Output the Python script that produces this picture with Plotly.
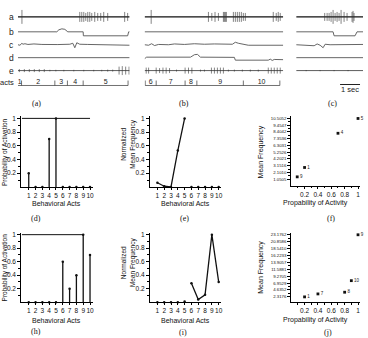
import plotly.graph_objects as go

W, H = 368, 338
SANS = "Liberation Sans"
SERIF = "Liberation Serif"

# ================= DATA =================
# --- recordings, time in seconds, amplitudes in trace units ---
A_DUR, B_DUR, C_DUR = 5.6, 6.95, 3.35

# panel (a)
A_spk_t = [0.2, 3.1, 3.2, 3.3, 3.4, 3.5, 3.6, 3.7, 3.85, 4.0, 4.15, 4.3, 4.5, 5.35, 5.5]
A_spk_amp = [7, 5, 5, 5, 4, 5, 5, 4, 5, 4, 4, 5, 4, 5, 4]
A_b_t = [0, 1.95, 2.05, 2.2, 2.35, 2.5, 3.27, 3.28, 5.5, 5.55, 5.6]
A_b_v = [0, 0, 2, 3, 2.5, 0, 0, -4, -4, 0, 0]
A_c_t = [0, 0.1, 0.2, 0.25, 0.35, 0.5, 0.8, 1.2, 2.0, 2.6, 2.75, 2.85, 2.95, 3.1, 3.5, 4.5, 5.6]
A_c_v = [0, -0.5, 1.5, 0.5, 1.0, 0.3, 0.8, 0.3, 0.2, 0.5, 1.5, -3, 2, 0.5, 0.3, 0, -0.5]
A_d_t = [0, 5.6]
A_d_v = [0, 0]
A_e_t = [0.07, 0.32, 0.57, 0.82, 1.07, 1.32, 1.6, 1.9, 2.3, 2.8, 3.3, 3.8, 4.2, 4.5, 4.75, 5.07, 5.23, 5.4, 5.57]
A_e_amp = [1.5, 1.5, 1.5, 1.5, 1.5, 1.5, 0.8, 0.8, 0.8, 0.8, 0.8, 0.8, 0.8, 1, 1, 4, 4.5, 4, 4]
A_act_bounds = [0.0, 0.18, 1.85, 2.48, 3.27, 5.52]
A_act_labels = ["1", "2", "3", "4", "5"]

# panel (b)
B_spk_t = [0.33, 3.2, 3.37, 3.53, 3.7, 3.95, 4.0, 4.05, 4.1, 4.45, 4.55, 4.65, 4.75, 4.85,
           4.95, 5.05, 6.45, 6.6, 6.7, 6.8]
B_spk_amp = [7, 5, 4, 5, 4, 5, 5, 5, 5, 5, 5, 5, 5, 5, 4, 4, 5, 4, 5, 4]
B_b_t = [0, 6.95]
B_b_v = [0, 0]
B_c_t = [0, 0.2, 0.35, 0.5, 0.7, 1.2, 1.5, 2.0, 2.5, 3.0, 3.5, 4.0, 4.4, 4.55, 4.7, 5.2, 6.95]
B_c_v = [0, -0.5, 1, -0.8, 0.3, 0, 0.8, 0.3, 1, 0.5, 0.8, 0.5, 0.5, 2.5, 1.5, -0.5, -0.5]
B_d_t = [0, 0.1, 2.3, 2.5, 2.65, 2.8, 4.5, 4.55, 6.2, 6.3, 6.4, 6.5, 6.95]
B_d_v = [-1, 0.5, 0.5, 3, 3.3, 0.5, 0.3, -2.5, -2.5, -1.5, -2.8, -1.8, -2]
B_e_t = [0.08, 0.2, 0.58, 0.75, 0.92, 1.08, 1.25, 1.6, 2.03, 2.2, 2.37, 2.8, 3.0, 3.35, 3.5,
         3.65, 3.8, 3.95, 4.2, 4.5, 4.9, 5.3, 5.7, 6.2, 6.35, 6.5, 6.65, 6.8]
B_e_amp = [3, 3, 3, 2.5, 3, 3, 2.5, 1, 3, 3, 3, 1, 1, 3, 3, 3, 3, 3, 1, 1, 1, 1, 1, 3, 3, 3, 3, 3]
B_act_bounds = [0.03, 0.58, 2.03, 2.62, 4.95, 6.78]
B_act_labels = ["6", "7", "8", "9", "10"]

# panel (c)
C_spk_t = [1.43, 1.55, 1.65, 1.75, 1.85, 1.95, 2.05, 2.15, 2.25, 2.4, 2.55, 2.8, 2.85, 2.9]
C_spk_amp = [4, 4, 4, 5, 7, 4, 5, 4, 7, 5, 4, 5, 6, 4]
C_b_t = [0, 1.85, 1.9, 2.95, 3.05, 3.35]
C_b_v = [0, 0, -4, -4, 0, 0]
C_c_t = [0, 0.7, 0.9, 1.05, 1.2, 1.35, 1.45, 1.7, 3.35]
C_c_v = [0, -0.3, -1, 0.8, -0.5, -3, 0.5, 0, 0.3]
C_d_t = [0, 3.35]
C_d_v = [0, 0]
C_e_t = [0.5, 1.2, 1.9, 2.6]
C_e_amp = [0.6, 0.6, 0.6, 0.6]
SCALE_BAR_S = 1.0

# --- behavioural analysis ---
acts = [1, 2, 3, 4, 5, 6, 7, 8, 9, 10]
d_prob = [0.2, 0, 0, 0.7, 1.0, 0, 0, 0, 0, 0]
d_ref_end = 10
e_norm = [0.06, 0.01, 0.0, 0.53, 1.0, 0, 0, 0, 0, 0]
h_prob = [0, 0, 0, 0, 0, 0.6, 0.2, 0.4, 1.0, 0.7]
h_ref_end = 9
i_norm = [0, 0, 0, 0, 0.01, 0.28, 0.04, 0.11, 1.0, 0.3]

f_x = [0.09, 0.2, 0.7, 1.0]
f_y = [1.41, 2.87, 8.2, 10.5052]
f_lbl = ["9", "1", "4", "5"]
j_x = [0.2, 0.4, 0.8, 0.9, 1.0]
j_y = [2.29, 3.29, 3.86, 7.75, 23.1762]
j_lbl = ["1", "7", "8", "10", "9"]

prob_ticks = ["0.2", "0.4", "0.6", "0.8", "1"]
f_yticks = ["1.0505", "2.1010", "3.1516", "4.2021", "5.2526", "6.3031", "7.3536", "8.4042",
            "9.4547", "10.5052"]
j_yticks = ["2.3176", "4.6352", "6.9529", "9.2705", "11.5881", "13.9057", "16.2233",
            "18.5410", "20.8586", "23.1762"]

# ================= LAYOUT HELPERS =================
def xd(p0, p1):
    return [p0 / W, p1 / W]

def yd(top, bot):
    return [1 - bot / H, 1 - top / H]

ROW = {"a": -15, "b": -30, "c": -43, "d": -56, "e": -69, "acts": -84}

fig = go.Figure()
ann = []

def add(tr, n):
    tr.update(xaxis="x" if n == 1 else f"x{n}", yaxis="y" if n == 1 else f"y{n}",
              showlegend=False, hoverinfo="skip")
    fig.add_trace(tr)

def spikes(ts, amps, base):
    xs, ys = [], []
    for t, a in zip(ts, amps):
        xs += [t, t, None]
        ys += [base + a, base - a, None]
    return xs, ys

def recording(n, dur, spk_t, spk_amp, b_t, b_v, c_t, c_v, d_t, d_v, e_t, e_amp):
    add(go.Scatter(x=[0, dur], y=[ROW["a"]] * 2, mode="lines",
                   line=dict(color="#111", width=1.4)), n)
    sx, sy = spikes(spk_t, spk_amp, ROW["a"])
    add(go.Scatter(x=sx, y=sy, mode="lines", line=dict(color="#333", width=0.6)), n)
    for key, tt, vv in (("b", b_t, b_v), ("c", c_t, c_v), ("d", d_t, d_v)):
        add(go.Scatter(x=tt, y=[ROW[key] + v for v in vv], mode="lines",
                       line=dict(color="#555", width=0.9)), n)
    add(go.Scatter(x=[0, dur], y=[ROW["e"]] * 2, mode="lines",
                   line=dict(color="#333", width=0.8)), n)
    ex, ey = spikes(e_t, e_amp, ROW["e"])
    add(go.Scatter(x=ex, y=ey, mode="lines", line=dict(color="#333", width=0.6)), n)

def acts_row(n, bounds, labels, bars):
    add(go.Scatter(x=[bounds[0], bounds[-1]], y=[ROW["acts"]] * 2, mode="lines",
                   line=dict(color="#333", width=0.7)), n)
    bx, by = [], []
    for b in bars:
        bx += [b, b, None]
        by += [ROW["acts"], ROW["acts"] + 5, None]
    add(go.Scatter(x=bx, y=by, mode="lines", line=dict(color="#333", width=0.7)), n)
    mids = [(bounds[k] + bounds[k + 1]) / 2 for k in range(len(labels))]
    add(go.Scatter(x=mids, y=[ROW["acts"] + 3] * len(labels), mode="text", text=labels,
                   textfont=dict(family=SANS, size=7, color="#222"), cliponaxis=False), n)

recording(1, A_DUR, A_spk_t, A_spk_amp, A_b_t, A_b_v, A_c_t, A_c_v, A_d_t, A_d_v, A_e_t, A_e_amp)
recording(2, B_DUR, B_spk_t, B_spk_amp, B_b_t, B_b_v, B_c_t, B_c_v, B_d_t, B_d_v, B_e_t, B_e_amp)
recording(3, C_DUR, C_spk_t, C_spk_amp, C_b_t, C_b_v, C_c_t, C_c_v, C_d_t, C_d_v, C_e_t, C_e_amp)
acts_row(1, A_act_bounds, A_act_labels, A_act_bounds[1:])
acts_row(2, B_act_bounds, B_act_labels, B_act_bounds)

sb0 = C_DUR - 1.15
add(go.Scatter(x=[sb0, sb0 + SCALE_BAR_S], y=[-83, -83], mode="lines",
               line=dict(color="#222", width=1)), 3)
add(go.Scatter(x=[sb0 + SCALE_BAR_S / 2], y=[-89], mode="text", text=["1 sec"],
               textfont=dict(family=SANS, size=7.5, color="#222"), cliponaxis=False), 3)

for key, lab, fs in (("a", "a", 8.5), ("b", "b", 8.5), ("c", "c", 8.5), ("d", "d", 8.5),
                     ("e", "e", 8.5), ("acts", "acts", 7.5)):
    py = -ROW[key] - (3 if key == "acts" else 0)
    ann.append(dict(x=16 / W, y=1 - py / H, xref="paper", yref="paper", text=lab,
                    showarrow=False, xanchor="right", yanchor="middle",
                    font=dict(family=SANS, size=fs, color="#222")))

def stem(n, vals, ref_end):
    add(go.Scatter(x=[0, ref_end], y=[1, 1], mode="lines",
                   line=dict(color="#111", width=1)), n)
    sx, sy = [], []
    for a, v in zip(acts, vals):
        if v > 0:
            sx += [a, a, None]
            sy += [0, v, None]
    add(go.Scatter(x=sx, y=sy, mode="lines", line=dict(color="#111", width=1.3)), n)
    add(go.Scatter(x=acts, y=vals, mode="markers", cliponaxis=False,
                   marker=dict(color="#111", size=2.5)), n)

def linep(n, vals, seg):
    add(go.Scatter(x=acts[seg[0]:seg[1]], y=vals[seg[0]:seg[1]], mode="lines",
                   line=dict(color="#111", width=1.3)), n)
    add(go.Scatter(x=acts, y=vals, mode="markers", cliponaxis=False,
                   marker=dict(color="#111", size=2.5)), n)

def scat(n, xs, ys, labels):
    add(go.Scatter(x=xs, y=ys, mode="markers+text", text=labels, textposition="middle right",
                   cliponaxis=False, marker=dict(color="#111", size=2.8, symbol="square"),
                   textfont=dict(family=SANS, size=4.5, color="#222")), n)

stem(4, d_prob, d_ref_end)
linep(5, e_norm, (0, 5))
scat(6, f_x, f_y, f_lbl)
stem(7, h_prob, h_ref_end)
linep(8, i_norm, (5, 10))
scat(9, j_x, j_y, j_lbl)

# ================= AXES =================
layout = dict(width=W, height=H, margin=dict(l=0, r=0, t=0, b=0),
              paper_bgcolor="white", plot_bgcolor="white", showlegend=False)

def hidden(n, dom, rng, ydom, yrng):
    sx = "" if n == 1 else str(n)
    layout["xaxis" + sx] = dict(domain=dom, range=rng, visible=False, anchor="y" + sx)
    layout["yaxis" + sx] = dict(domain=ydom, range=yrng, visible=False, anchor="x" + sx)

top_y = yd(2, 92)
hidden(1, xd(18, 130), [0, A_DUR], top_y, [-92, -2])
hidden(2, xd(145, 284), [0, B_DUR], top_y, [-92, -2])
hidden(3, xd(297, 364), [0, C_DUR], top_y, [-92, -2])

def axis_common(fs, tl=3):
    return dict(showline=True, linecolor="black", linewidth=1, ticks="outside", ticklen=tl,
                tickwidth=1, tickcolor="black", showgrid=False, zeroline=False, tickangle=0,
                ticklabelstandoff=0,
                tickfont=dict(family=SANS, size=fs, color="#111"))

def shown(n, xdom, xrng, xtv, xtt, xminor, ydom, yrng, ytv, ytt, yminor, yfs, xfs=6.5):
    sx = str(n)
    xa = axis_common(xfs, 2)
    xa.update(domain=xdom, range=xrng, anchor="y" + sx, tickmode="array", tickvals=xtv,
              ticktext=xtt)
    if xminor:
        xa["minor"] = dict(tickmode="array", tickvals=xminor, ticks="outside", ticklen=1.5,
                           tickcolor="black")
    ya = axis_common(yfs)
    ya.update(domain=ydom, range=yrng, anchor="x" + sx, tickmode="array", tickvals=ytv,
              ticktext=ytt)
    if yminor:
        ya["minor"] = dict(tickmode="array", tickvals=yminor, ticks="outside", ticklen=2,
                           tickcolor="black")
    layout["xaxis" + sx] = xa
    layout["yaxis" + sx] = ya

pv = [float(t) for t in prob_ticks]
pminor = [0.1, 0.3, 0.5, 0.7, 0.9]
act_tt = [str(a) for a in acts]
fv = [float(t) for t in f_yticks]
jv = [float(t) for t in j_yticks]
fminor = [(fv[k] + fv[k + 1]) / 2 for k in range(len(fv) - 1)]
jminor = [(jv[k] + jv[k + 1]) / 2 for k in range(len(jv) - 1)]

dx_dom, dx_rng = xd(21.3, 93), [-0.1, 10.4]
ex_dom, ex_rng = xd(150.3, 222), [-0.1, 10.4]
fx_dom, fx_rng = xd(292, 361), [0, 1.03]
row1, row2 = yd(115, 186), yd(232, 302)

shown(4, dx_dom, dx_rng, acts, act_tt, None, row1, [0, 1.03], pv, prob_ticks, pminor, 6.5)
shown(5, ex_dom, ex_rng, acts, act_tt, None, row1, [0, 1.03], pv, prob_ticks, pminor, 6.5)
shown(6, fx_dom, fx_rng, pv, prob_ticks, pminor, yd(115, 185), [0, 10.84], fv, f_yticks,
      fminor, 4.3)
shown(7, dx_dom, dx_rng, acts, act_tt, None, row2, [0, 1.03], pv, prob_ticks, pminor, 6.5)
shown(8, ex_dom, ex_rng, acts, act_tt, None, row2, [0, 1.03], pv, prob_ticks, pminor, 6.5)
shown(9, fx_dom, fx_rng, pv, prob_ticks, pminor, row2, [0.5, 23.9], jv, j_yticks, jminor, 4.3)

# ================= TEXT =================
def text(x, y, s, fs=7, fam=SANS, angle=0):
    ann.append(dict(x=x / W, y=1 - y / H, xref="paper", yref="paper", text=s,
                    showarrow=False, xanchor="center", yanchor="middle", textangle=angle,
                    font=dict(family=fam, size=fs, color="#111")))

text(5, 151, "Probability of Activation", 6.5, angle=-90)
text(5, 267, "Probability of Activation", 6.5, angle=-90)
text(129, 143, "Normalized<br>Mean Frequency", 6.5, angle=-90)
text(129, 262, "Normalized<br>Mean Frequency", 6.5, angle=-90)
text(262, 151, "Mean Frequency", 7, angle=-90)
text(262, 267, "Mean Frequency", 7, angle=-90)
for cx in (57, 186):
    text(cx, 202.5, "Behavioral Acts", 7)
    text(cx, 320, "Behavioral Acts", 7)
text(316, 202.5, "Propability of Activity", 7)
text(316, 320, "Propability of Activity", 7)

for s, x, y in (("(a)", 37, 102), ("(b)", 185, 102), ("(c)", 333, 102),
                ("(d)", 36, 218), ("(e)", 185, 218), ("(f)", 332, 218),
                ("(h)", 36, 331), ("(i)", 183, 332), ("(j)", 329, 332)):
    text(x, y, s, 8, SERIF)

layout["annotations"] = ann
fig.update_layout(**layout)
fig.write_html("out.html")
